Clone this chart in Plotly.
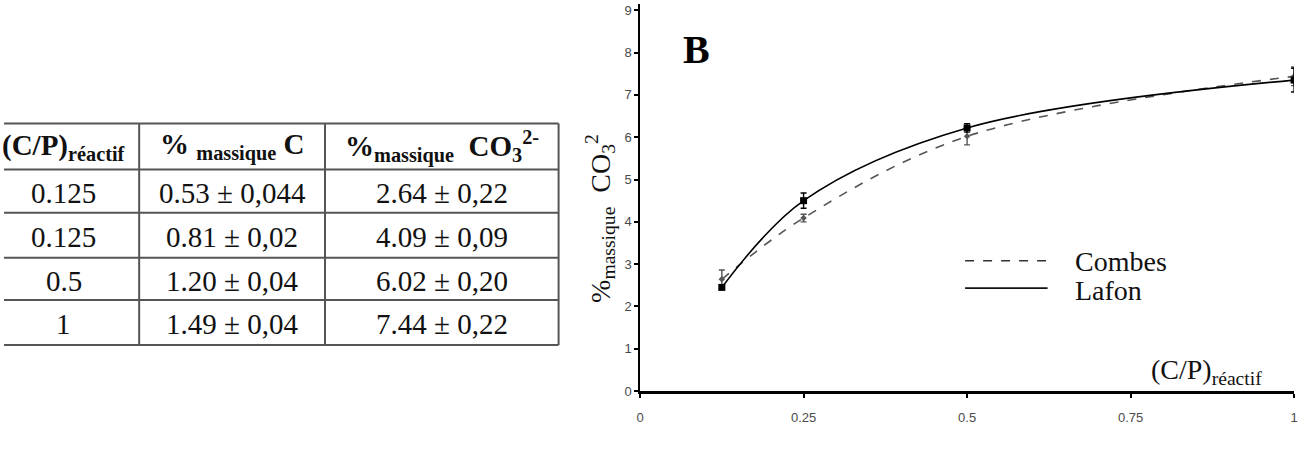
import plotly.graph_objects as go

W, H = 1308, 451

# ---------------- data ----------------
cp_ratio = [0.125, 0.25, 0.5, 1.0]
combes_co3 = [2.64, 4.09, 6.02, 7.44]
combes_err = [0.22, 0.09, 0.20, 0.22]
lafon_co3 = [2.45, 4.50, 6.22, 7.35]
lafon_err = [0.05, 0.18, 0.10, 0.28]

x_ticks = [0, 0.25, 0.5, 0.75, 1]
x_ticktext = ["0", "0.25", "0.5", "0.75", "1"]
y_ticks = [0, 1, 2, 3, 4, 5, 6, 7, 8, 9]

table_header = ["<b>(C/P)<sub>réactif</sub></b>",
                "<b>% <sub>massique</sub> C</b>",
                "<b>%<sub>massique</sub>  CO<sub>3</sub><sup>2-</sup></b>"]
table_col1 = ["0.125", "0.125", "0.5", "1"]
table_col2 = ["0.53 ± 0,044", "0.81 ± 0,02", "1.20 ± 0,04", "1.49 ± 0,04"]
table_col3 = ["2.64 ± 0,22", "4.09 ± 0,09", "6.02 ± 0,20", "7.44 ± 0,22"]


def px(x):
    return x / W


def py(y):
    return 1 - y / H


fig = go.Figure()

fig.add_trace(go.Scatter(
    x=cp_ratio, y=combes_co3, name="Combes", mode="lines+markers",
    line=dict(color="#555555", width=1.6, dash="dash", shape="spline", smoothing=1),
    marker=dict(symbol="diamond", size=5, color="#555555"),
    error_y=dict(type="data", array=combes_err, color="#555555", thickness=1.4, width=3),
    showlegend=False))

fig.add_trace(go.Scatter(
    x=cp_ratio, y=lafon_co3, name="Lafon", mode="lines+markers",
    line=dict(color="black", width=1.6, shape="spline", smoothing=1),
    marker=dict(symbol="square", size=7, color="black"),
    error_y=dict(type="data", array=lafon_err, color="black", thickness=1.4, width=3),
    showlegend=False))

shapes = []
annotations = []

# ---------------- table ----------------
row_edges = [125, 172, 216, 262, 305, 351]
col_edges = [-20, 136, 323, 558]
line_col = "#555555"
for y in row_edges:
    shapes.append(dict(type="line", xref="paper", yref="paper",
                       x0=px(0), x1=px(col_edges[-1]), y0=py(y), y1=py(y),
                       line=dict(color=line_col, width=2)))
for x in col_edges[1:]:
    shapes.append(dict(type="line", xref="paper", yref="paper",
                       x0=px(x), x1=px(x), y0=py(row_edges[0]), y1=py(row_edges[-1]),
                       line=dict(color=line_col, width=2)))

centers_x = [60, (col_edges[1] + col_edges[2]) / 2, (col_edges[2] + col_edges[3]) / 2]
tfont = dict(family="Liberation Serif", size=29, color="#111111")
for j, txt in enumerate(table_header):
    annotations.append(dict(xref="paper", yref="paper", x=px(centers_x[j]),
                            y=py((row_edges[0] + row_edges[1]) / 2),
                            text=txt, showarrow=False, xanchor="center", yanchor="middle",
                            font=tfont))
for i in range(4):
    yc = py((row_edges[i + 1] + row_edges[i + 2]) / 2 + 2)
    for j, col in enumerate([table_col1, table_col2, table_col3]):
        annotations.append(dict(xref="paper", yref="paper", x=px(centers_x[j]), y=yc,
                                text=col[i], showarrow=False, xanchor="center",
                                yanchor="middle", font=tfont))

# ---------------- chart labels ----------------
serif = "Liberation Serif"
annotations.append(dict(xref="paper", yref="paper", x=px(697), y=py(49), text="<b>B</b>",
                        showarrow=False, xanchor="center", yanchor="middle",
                        font=dict(family=serif, size=40, color="black")))
annotations.append(dict(xref="paper", yref="paper", x=px(600), y=py(222),
                        text="%<sub>massique</sub>  CO<sub>3</sub><sup>2</sup>",
                        textangle=-90, showarrow=False, xanchor="center", yanchor="middle",
                        font=dict(family=serif, size=28, color="#111111")))
annotations.append(dict(xref="paper", yref="paper", x=px(1152), y=py(378),
                        text="(C/P)<sub>réactif</sub>", showarrow=False,
                        xanchor="left", yanchor="middle",
                        font=dict(family=serif, size=28, color="#111111")))

# legend (manual)
shapes.append(dict(type="line", xref="paper", yref="paper", x0=px(967), x1=px(1050),
                   y0=py(265), y1=py(265), line=dict(color="#333333", width=1.6, dash="dash")))
shapes.append(dict(type="line", xref="paper", yref="paper", x0=px(967), x1=px(1050),
                   y0=py(293), y1=py(293), line=dict(color="#111111", width=1.8)))
annotations.append(dict(xref="paper", yref="paper", x=px(1076), y=py(266), text="Combes",
                        showarrow=False, xanchor="left", yanchor="middle",
                        font=dict(family=serif, size=28, color="#111111")))
annotations.append(dict(xref="paper", yref="paper", x=px(1076), y=py(295), text="Lafon",
                        showarrow=False, xanchor="left", yanchor="middle",
                        font=dict(family=serif, size=28, color="#111111")))

tickfont = dict(family="Liberation Sans", size=13, color="#4a4a4a")
fig.update_layout(
    width=W, height=H, margin=dict(l=0, r=0, t=0, b=0),
    paper_bgcolor="white", plot_bgcolor="white",
    shapes=shapes, annotations=annotations,
    xaxis=dict(domain=[px(640), px(1298)], range=[0, 1], tickvals=x_ticks,
               ticktext=x_ticktext, showline=True, linewidth=3, linecolor="black",
               ticks="outside", ticklen=4, tickcolor="black", tickwidth=1.5,
               ticklabelstandoff=8,
               showgrid=False, zeroline=False, tickfont=tickfont),
    yaxis=dict(domain=[py(398), py(3)], range=[0, 9.15], tickvals=y_ticks,
               showline=True, linewidth=1.6, linecolor="black",
               ticks="outside", ticklen=4, tickcolor="black", tickwidth=1.5,
               showgrid=False, zeroline=False, tickfont=tickfont),
)

fig.write_html("out.html")
